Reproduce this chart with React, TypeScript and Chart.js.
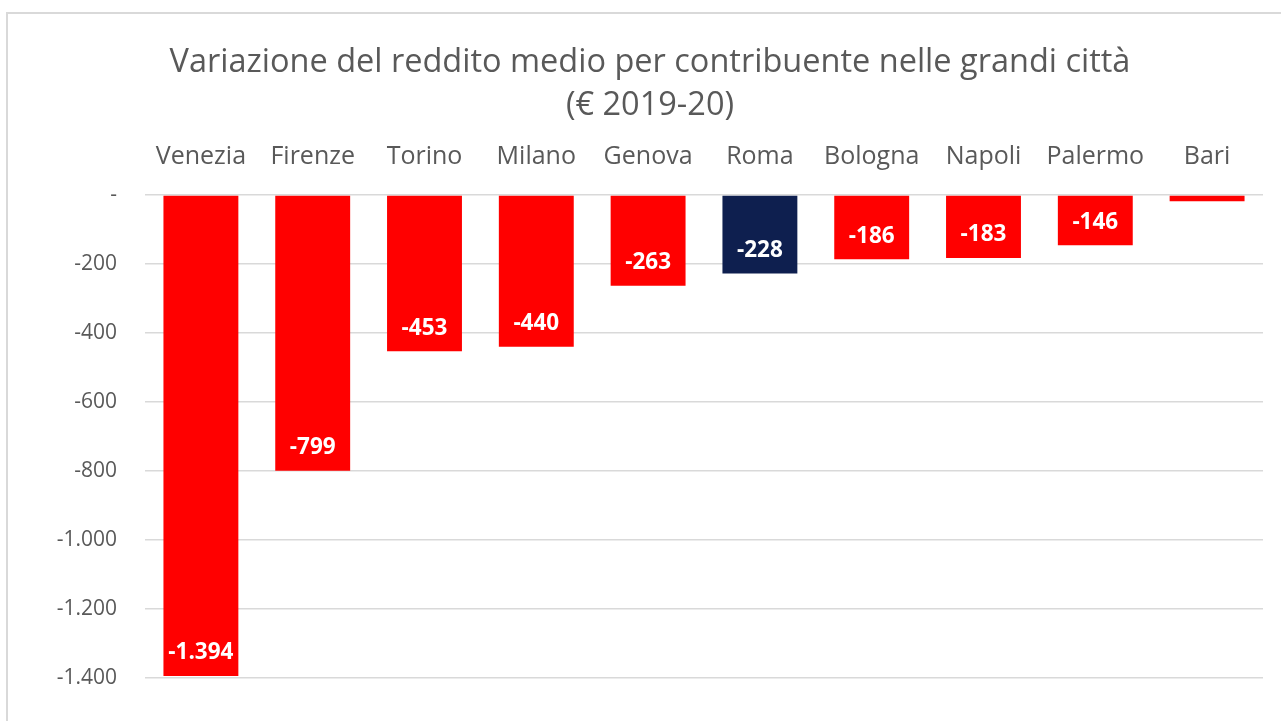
import React, { useEffect, useRef } from "react";
import { Chart, registerables } from "chart.js";

Chart.register(...registerables);

const titleLines = ["Variazione del reddito medio per contribuente nelle grandi città", "(€ 2019-20)"];
const cities = ["Venezia", "Firenze", "Torino", "Milano", "Genova", "Roma", "Bologna", "Napoli", "Palermo", "Bari"];
const variations = [-1394, -799, -453, -440, -263, -228, -186, -183, -146, -18];
const highlightCity = "Roma";
const yMin = -1400;
const yMax = 0;
const yStep = 200;

const RED = "#ff0000";
const NAVY = "#0e1f4f";
const TEXT = "#595959";
const GRID = "#d9d9d9";
const FONT = "'Open Sans', 'Noto Sans', sans-serif";

function fmt(v: number): string {
  if (v === 0) return "-";
  const s = Math.abs(Math.round(v)).toString().replace(/\B(?=(\d{3})+(?!\d))/g, ".");
  return (v < 0 ? "-" : "") + s;
}

const labelPlugin = {
  id: "insideEndLabels",
  afterDatasetsDraw(chart: any) {
    const ctx = chart.ctx;
    const meta = chart.getDatasetMeta(0);
    const data = chart.data.datasets[0].data as number[];
    ctx.save();
    ctx.font = `bold 22.5px ${FONT}`;
    ctx.fillStyle = "#ffffff";
    ctx.textAlign = "center";
    ctx.textBaseline = "middle";
    meta.data.forEach((bar: any, i: number) => {
      const h = Math.abs(bar.y - bar.base);
      if (h < 34) return;
      ctx.fillText(fmt(data[i]), bar.x, bar.y - 23);
    });
    ctx.restore();
  },
};

export default function App() {
  const ref = useRef<HTMLCanvasElement | null>(null);

  useEffect(() => {
    if (!ref.current) return;
    const chart = new Chart(ref.current, {
      type: "bar",
      data: {
        labels: cities,
        datasets: [
          {
            data: variations,
            backgroundColor: cities.map((c) => (c === highlightCity ? NAVY : RED)),
            borderWidth: 0,
            categoryPercentage: 1,
            barPercentage: 0.67,
          },
        ],
      },
      options: {
        responsive: false,
        animation: false,
        devicePixelRatio: 1,
        layout: { padding: { left: 37, right: 37, top: 0, bottom: 43 } },
        plugins: {
          legend: { display: false },
          tooltip: { enabled: false },
          title: {
            display: true,
            text: titleLines,
            color: TEXT,
            font: { family: FONT, size: 32.5, weight: "normal", lineHeight: 1.33 },
            padding: { top: 41, bottom: 0 },
          },
        },
        scales: {
          x: {
            position: "top",
            grid: { display: false, drawTicks: false },
            border: { display: false },
            ticks: {
              color: TEXT,
              font: { family: FONT, size: 25 },
              padding: 23,
              maxRotation: 0,
            },
            afterFit(scale: any) {
              scale.height = 67.5;
            },
          },
          y: {
            min: yMin,
            max: yMax,
            grid: { color: GRID, lineWidth: 1.5, drawTicks: false },
            border: { display: false },
            ticks: {
              stepSize: yStep,
              color: TEXT,
              font: { family: FONT, size: 21 },
              padding: 28,
              callback: (v: any) => fmt(Number(v)),
            },
            afterFit(scale: any) {
              scale.width = 108;
            },
          },
        },
      },
      plugins: [labelPlugin],
    });
    return () => chart.destroy();
  }, []);

  return (
    <div style={{ position: "fixed", left: 0, top: 0, width: 1281, height: 721, overflow: "hidden", background: "#fff" }}>
      <div
        style={{
          position: "absolute",
          left: 6,
          top: 12,
          width: 1300,
          height: 740,
          border: "2px solid #d9d9d9",
          boxSizing: "border-box",
        }}
      />
      <canvas ref={ref} width={1300} height={721} style={{ position: "absolute", left: 0, top: 0 }} />
    </div>
  );
}
